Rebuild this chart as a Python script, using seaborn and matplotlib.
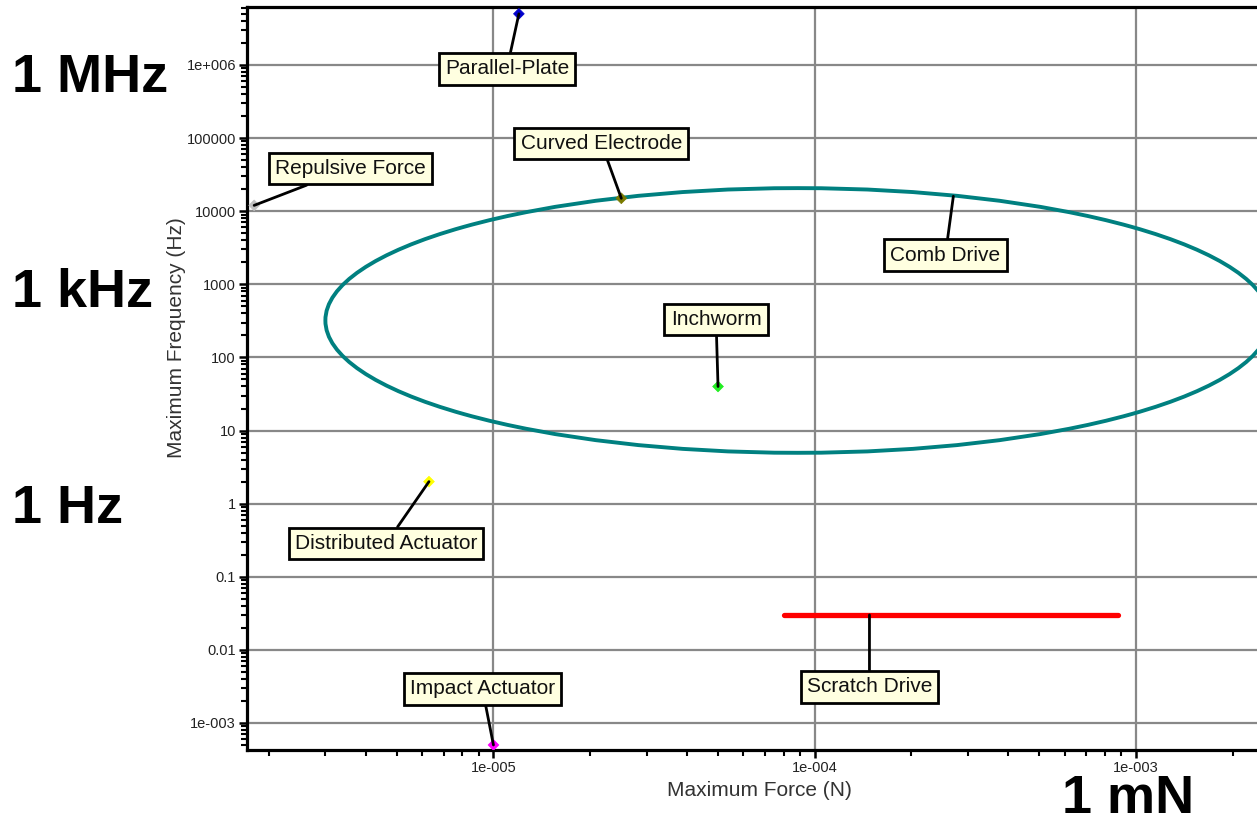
import numpy as np
import pandas as pd
import seaborn as sns
import matplotlib.pyplot as plt
import matplotlib.transforms as mtransforms
from matplotlib.patches import Ellipse
from matplotlib.ticker import FixedLocator, FixedFormatter, LogLocator, NullFormatter

# pontos individuais (forca maxima em N, frequencia maxima em Hz)
point_names = ['Parallel-Plate', 'Curved Electrode', 'Repulsive Force', 'Inchworm',
               'Distributed Actuator', 'Impact Actuator']
point_force = [1.2e-5, 2.5e-5, 1.8e-6, 5.0e-5, 6.3e-6, 1.0e-5]
point_freq = [5.0e6, 1.5e4, 1.2e4, 40, 2.0, 5.0e-4]
point_colors = ['#0000CC', '#7A7A00', '#C0C0C0', '#22EE22', '#FFFF00', '#FF00FF']

# Scratch Drive: faixa de forca a frequencia constante
scratch_force = [8.0e-5, 8.8e-4]
scratch_freq = [0.03, 0.03]

# Comb Drive: regiao eliptica (centro e semi-eixos em decadas)
comb_center = (8.85e-5, 320)
comb_half_decades = (1.47, 1.81)

# pontos de ancoragem dos rotulos sem marcador
comb_anchor = (2.7e-4, 1.6e4)
scratch_anchor = (1.48e-4, 0.03)

x_ticks = [1e-5, 1e-4, 1e-3]
x_tick_labels = ['1e-005', '1e-004', '1e-003']
y_ticks = [1e-3, 1e-2, 1e-1, 1, 10, 100, 1000, 1e4, 1e5, 1e6]
y_tick_labels = ['1e-003', '0.01', '0.1', '1', '10', '100', '1000', '10000', '100000', '1e+006']

xlim = (1.71e-6, 2.63e-3)
ylim = (4.27e-4, 6.2e6)

sns.set_style('white')
plt.rcParams['font.family'] = ['Liberation Sans', 'DejaVu Sans']

fig = plt.figure(figsize=(12.57, 8.24), dpi=100)
ax = fig.add_axes([247 / 1257, 74 / 824, 1024 / 1257, 743 / 824])
ax.set_xscale('log')
ax.set_yscale('log')
ax.set_xlim(*xlim)
ax.set_ylim(*ylim)

# elipse desenhada em coordenadas log10 mapeadas para o eixo
lx0, lx1 = np.log10(xlim)
ly0, ly1 = np.log10(ylim)
log_to_axes = (mtransforms.Affine2D().translate(-lx0, -ly0)
               .scale(1 / (lx1 - lx0), 1 / (ly1 - ly0)) + ax.transAxes)
ell = Ellipse((np.log10(comb_center[0]), np.log10(comb_center[1])),
              2 * comb_half_decades[0], 2 * comb_half_decades[1],
              fill=False, edgecolor='#008080', linewidth=2.8,
              transform=log_to_axes, zorder=2)
ax.add_patch(ell)

sns.lineplot(x=scratch_force, y=scratch_freq, color='#FF0000', linewidth=3.8,
             ax=ax, zorder=3)

df = pd.DataFrame({'force': point_force, 'freq': point_freq, 'name': point_names})
sns.scatterplot(data=df, x='force', y='freq', hue='name',
                palette=dict(zip(point_names, point_colors)), marker='D', s=30,
                linewidth=0.5, edgecolor=point_colors, legend=False, ax=ax, zorder=4)

ax.set_xlim(*xlim)
ax.set_ylim(*ylim)

# grade e eixos
ax.set_axisbelow(True)
ax.grid(True, which='major', color='#888888', linewidth=1.6)
ax.grid(False, which='minor')
for side in ['left', 'bottom', 'top']:
    ax.spines[side].set_color('black')
    ax.spines[side].set_linewidth(2.3)
ax.spines['right'].set_visible(False)

ax.xaxis.set_major_locator(FixedLocator(x_ticks))
ax.xaxis.set_major_formatter(FixedFormatter(x_tick_labels))
ax.yaxis.set_major_locator(FixedLocator(y_ticks))
ax.yaxis.set_major_formatter(FixedFormatter(y_tick_labels))
ax.xaxis.set_minor_locator(LogLocator(base=10, subs=np.arange(2, 10), numticks=20))
ax.yaxis.set_minor_locator(LogLocator(base=10, subs=np.arange(2, 10), numticks=20))
ax.xaxis.set_minor_formatter(NullFormatter())
ax.yaxis.set_minor_formatter(NullFormatter())
ax.tick_params(which='major', direction='out', length=6, width=1.8, color='black',
               labelsize=10.5, labelcolor='#222222', pad=2)
ax.tick_params(which='minor', direction='out', length=4, width=1.5, color='black')
ax.tick_params(axis='x', which='both', bottom=True, top=False)
ax.tick_params(axis='y', which='both', left=True, right=False)

ax.set_xlabel('Maximum Force (N)', fontsize=15, color='#333333')
ax.set_ylabel('Maximum Frequency (Hz)', fontsize=15, color='#333333')
ax.xaxis.label.set_va('center')
ax.yaxis.label.set_va('center')
ax.xaxis.set_label_coords(0.5, -0.054)
ax.yaxis.set_label_coords(-0.069, 0.555)

# rotulos com caixas amarelas
box = dict(boxstyle='square,pad=0.3', facecolor='#FFFFE0', edgecolor='black', linewidth=2)
arrow = dict(arrowstyle='-', color='black', linewidth=2, shrinkA=0, shrinkB=0)
label_offsets = {
    'Parallel-Plate': (-12, -55),
    'Curved Electrode': (-20, 55),
    'Repulsive Force': (96, 37),
    'Inchworm': (-2, 67),
    'Distributed Actuator': (-43, -62),
    'Impact Actuator': (-11, 56),
}
for name, fx, fy in zip(point_names, point_force, point_freq):
    ax.annotate(name, xy=(fx, fy), xytext=label_offsets[name], textcoords='offset pixels',
                ha='center', va='center', fontsize=15, color='#111111',
                bbox=box, arrowprops=arrow, zorder=5)
ax.annotate('Comb Drive', xy=comb_anchor, xytext=(-8, -59), textcoords='offset pixels',
            ha='center', va='center', fontsize=15, color='#111111',
            bbox=box, arrowprops=arrow, zorder=5)
ax.annotate('Scratch Drive', xy=scratch_anchor, xytext=(0, -72), textcoords='offset pixels',
            ha='center', va='center', fontsize=15, color='#111111',
            bbox=box, arrowprops=arrow, zorder=5)

# rotulos grandes de referencia
big = dict(fontsize=39, fontweight='bold', color='black', ha='left', va='baseline')
fig.text(12 / 1257, 1 - 92 / 824, '1 MHz', **big)
fig.text(12 / 1257, 1 - 307 / 824, '1 kHz', **big)
fig.text(12 / 1257, 1 - 523 / 824, '1 Hz', **big)
fig.text(1062 / 1257, 1 - 813 / 824, '1 mN', **big)

plt.savefig('out.png', dpi=100)
